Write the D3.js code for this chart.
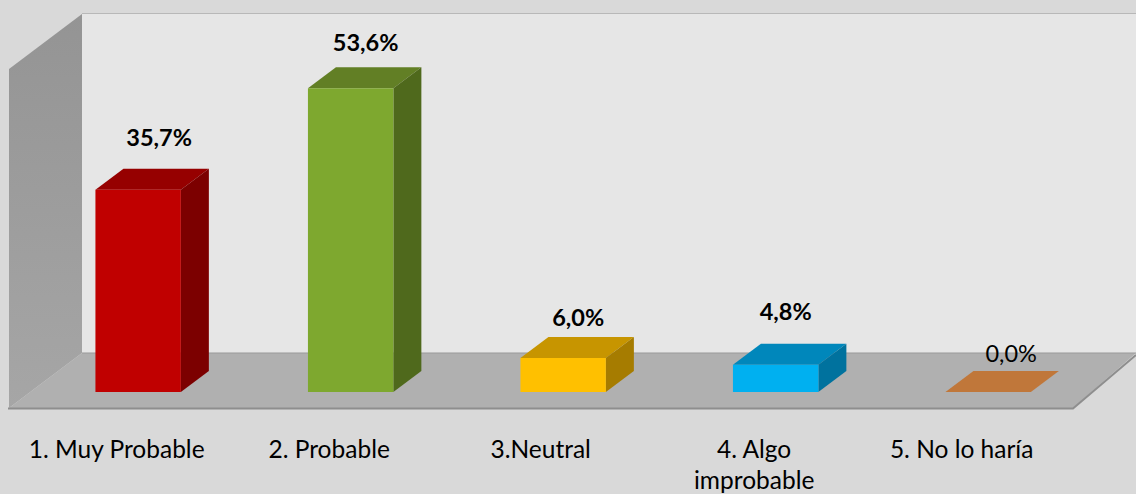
<!DOCTYPE html>
<html><head><meta charset="utf-8">
<script src="https://cdnjs.cloudflare.com/ajax/libs/d3/7.8.5/d3.min.js"></script>
<style>html,body{margin:0;padding:0;background:#d9d9d9;overflow:hidden}svg{display:block}text{font-family:Lato,"Open Sans",sans-serif}</style>
</head><body><svg id="c" width="1136" height="494"></svg>
<script>
const categories = ["1. Muy Probable","2. Probable","3.Neutral","4. Algo improbable","5. No lo haría"];
const values = [35.7,53.6,6.0,4.8,0.0];
const valueLabels = ["35,7%","53,6%","6,0%","4,8%","0,0%"];
const frontColors = ["#c00000","#7ea82f","#ffc000","#00b0f0","#c0773a"];
const topColors = ["#960000","#627f25","#c79500","#0087bb","#c0773a"];
const sideColors = ["#7c0000","#4f691c","#a67c00","#00729e","#c0773a"];
const labelOffsetX = [21,15,15,10,23];
const labelOffsetY = [-44,-37,-32,-45,-30];
const boldLabel = [true,true,true,true,false];
const tickOffsetX = [0,0,-1,0,-5];

const W=1136,H=494, depthX=28, depthY=21;
const svg=d3.select("#c");
const x=d3.scaleBand().domain(categories).range([31.9,1094.4]).paddingInner(0.598).paddingOuter(0.299);
const y=d3.scaleLinear().domain([0,60]).range([392,52]);
const line=d3.line();
const defs=svg.append("defs");
const g1=defs.append("linearGradient").attr("id","wall").attr("x1",0).attr("y1",0).attr("x2",0).attr("y2",1);
g1.append("stop").attr("offset",0).attr("stop-color","#949494");
g1.append("stop").attr("offset",1).attr("stop-color","#a6a6a6");

// frame
svg.append("rect").attr("width",W).attr("height",H).attr("fill","#d9d9d9");
svg.append("rect").attr("x",82).attr("y",14).attr("width",W-82).attr("height",339).attr("fill","#e6e6e6");
svg.append("path").attr("d",line([[82,13.5],[W,13.5]])).attr("stroke","#b8b8b8").attr("fill","none");
svg.append("path").attr("d",line([[9,69],[82,14],[82,353],[9,408]])+"Z").attr("fill","url(#wall)");
svg.append("path").attr("d",line([[9,408],[82,353],[W,353],[1073,408]])+"Z").attr("fill","#b0b0b0");
svg.append("path").attr("d",line([[82,353],[W,353]])).attr("stroke","#999").attr("fill","none");
svg.append("path").attr("d",line([[8,408.5],[1073,408.5],[W,355]])).attr("stroke","#8e8e8e").attr("stroke-width",2).attr("fill","none");

// bars
const bars=svg.selectAll("g.bar").data(categories).join("g").attr("class","bar");
bars.each(function(c,i){
  const g=d3.select(this), x0=x(c), x1=x0+x.bandwidth(), yT=y(values[i]), yB=y(0);
  g.append("path").attr("d",line([[x0,yT],[x0+depthX,yT-depthY],[x1+depthX,yT-depthY],[x1,yT]])+"Z").attr("fill",topColors[i]);
  if(values[i]>0){
    g.append("path").attr("d",line([[x1,yT],[x1+depthX,yT-depthY],[x1+depthX,yB-depthY],[x1,yB]])+"Z").attr("fill",sideColors[i]);
    g.append("rect").attr("x",x0).attr("y",yT).attr("width",x.bandwidth()).attr("height",yB-yT).attr("fill",frontColors[i]);
  }
  g.append("text").attr("x",x0+x.bandwidth()/2+labelOffsetX[i]).attr("y",yT+labelOffsetY[i])
    .attr("text-anchor","middle").attr("font-size",23.5).attr("font-weight",boldLabel[i]?700:400).attr("fill","#000").text(valueLabels[i]);
});

// category axis along the front edge of the floor
const axis=d3.axisBottom(x).tickSize(0).tickPadding(0);
const ax=svg.append("g").attr("transform","translate(-21.5,408)").call(axis);
ax.select(".domain").remove();
ax.selectAll(".tick text").each(function(c,i){
  const t=d3.select(this).text(null).attr("font-size",24.5).attr("fill","#000").style("font-family","Lato,'Open Sans',sans-serif").attr("dy",null).attr("y",null);
  const lines=c==="4. Algo improbable"?["4. Algo","improbable"]:[c];
  lines.forEach((s,k)=>t.append("tspan").attr("x",tickOffsetX[i]).attr("y",50+k*30.5).text(s));
});
</script></body></html>
